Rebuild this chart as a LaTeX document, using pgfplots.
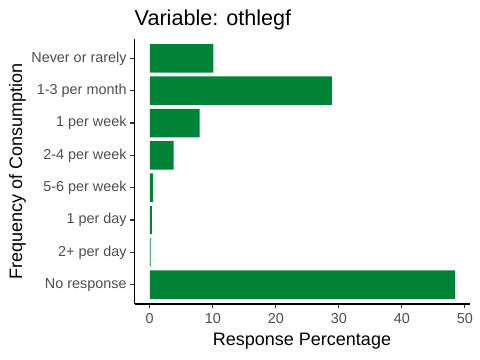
\documentclass[border=0pt]{standalone}
\usepackage{pgfplots}
\pgfplotsset{compat=1.18}
\usepackage{fontspec}
\setmainfont{Liberation Sans}
\definecolor{barg}{RGB}{0,130,55}
\definecolor{tickgray}{RGB}{77,77,77}
\begin{document}
\begin{tikzpicture}
\useasboundingbox (0,0) rectangle (480bp,360bp);
\begin{axis}[
 at={(134.5bp,56bp)}, anchor=south west,
 scale only axis, width=335.5bp, height=265bp,
 xbar, bar width=0.88, bar shift=0pt,
 y dir=reverse,
 xmin=-2.42, xmax=50.82, ymin=0.4, ymax=8.6,
 ytick={1,...,8},
 yticklabels={Never or rarely,1-3 per month,1 per week,2-4 per week,5-6 per week,1 per day,2+ per day,No response},
 xtick={0,10,20,30,40,50},
 axis x line*=bottom, axis y line*=left,
 axis line style={black, line width=1.07bp},
 tick align=outside, major tick length=4.4bp,
 tick style={color=black!80, line width=1.07bp},
 ticklabel style={font=\fontsize{14.4bp}{17bp}\selectfont, text=tickgray},
 xticklabel style={yshift=-1.5bp},
 /pgf/number format/assume math mode=true,
]
\addplot[fill=barg, draw=none] coordinates {(10.1,1) (28.9,2) (7.9,3) (3.8,4) (0.5,5) (0.35,6) (0.15,7) (48.4,8)};
\end{axis}
\node[anchor=base west, inner sep=0pt, font=\fontsize{21.6bp}{26bp}\selectfont] at (134.5bp,334bp) {Variable: othlegf};
\node[anchor=base, inner sep=0pt, font=\fontsize{18bp}{22bp}\selectfont] at (302bp,14.3bp) {Response Percentage};
\node[rotate=90, anchor=base, inner sep=0pt, font=\fontsize{18bp}{22bp}\selectfont] at (22bp,188.5bp) {Frequency of Consumption};
\end{tikzpicture}
\end{document}
